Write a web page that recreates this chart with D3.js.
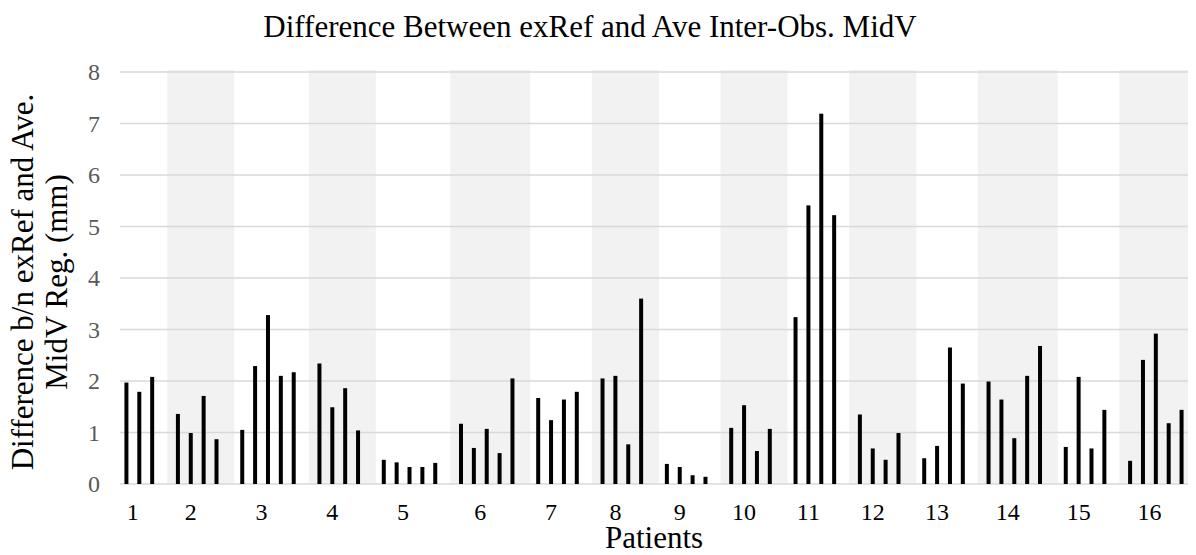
<!DOCTYPE html>
<html>
<head>
<meta charset="utf-8">
<script src="https://cdn.jsdelivr.net/npm/d3@7"></script>
<style>
  html, body { margin: 0; padding: 0; background: #fff; }
  svg { display: block; font-family: "Liberation Serif", "Times New Roman", serif; }
  svg text { font-family: "Liberation Serif", "Times New Roman", serif; }
</style>
</head>
<body>
<svg id="chart" width="1196" height="555"></svg>
<script>
// Patient labels (x axis categories)
const patients = ["1","2","3","4","5","6","7","8","9","10","11","12","13","14","15","16"];

// Difference b/n exRef and average inter-observer MidV registration (mm), per patient
const p1  = [1.97, 1.79, 2.08];
const p2  = [1.36, 0.99, 1.71, 0.87];
const p3  = [1.05, 2.29, 3.28, 2.10, 2.17];
const p4  = [2.34, 1.49, 1.86, 1.04];
const p5  = [0.47, 0.42, 0.33, 0.33, 0.41];
const p6  = [1.17, 0.70, 1.07, 0.60, 2.05];
const p7  = [1.67, 1.24, 1.64, 1.79];
const p8  = [2.05, 2.10, 0.77, 3.60];
const p9  = [0.39, 0.33, 0.17, 0.14];
const p10 = [1.09, 1.53, 0.64, 1.07];
const p11 = [3.24, 5.41, 7.19, 5.22];
const p12 = [1.35, 0.69, 0.47, 0.99];
const p13 = [0.50, 0.74, 2.65, 1.95];
const p14 = [1.99, 1.64, 0.89, 2.10, 2.68];
const p15 = [0.72, 2.08, 0.69, 1.44];
const p16 = [0.45, 2.41, 2.92, 1.18, 1.44];
const seriesByPatient = [p1,p2,p3,p4,p5,p6,p7,p8,p9,p10,p11,p12,p13,p14,p15,p16];

// y axis ticks
const yTicks = [0,1,2,3,4,5,6,7,8];

const titleText = "Difference Between exRef and Ave Inter-Obs. MidV";
const yTitleLines = ["Difference b/n exRef and Ave.", "MidV Reg. (mm)"];
const xTitleText = "Patients";

// ---- layout ----
const plot = { left: 120, right: 1188, top: 72, bottom: 484 };

const svg = d3.select("#chart");

// Flatten into slots: each patient's readings, then one empty slot between patients
const slots = [];
const groups = [];
seriesByPatient.forEach((vals, pi) => {
  const first = slots.length;
  vals.forEach((v, j) => slots.push({ key: `p${pi}-${j}`, patient: pi, value: v }));
  groups.push({ patient: pi, first: slots[first].key, last: slots[slots.length - 1].key });
  if (pi < seriesByPatient.length - 1) slots.push({ key: `gap${pi}`, patient: pi, value: null });
});

const x = d3.scaleBand()
  .domain(slots.map(d => d.key))
  .range([plot.left, plot.right])
  .padding(0);
const step = x.step();

const y = d3.scaleLinear().domain([0, 8]).range([plot.bottom, plot.top]);

// ---- alternating shaded bands behind even-numbered patients ----
svg.append("g")
  .selectAll("rect")
  .data(groups.filter(g => g.patient % 2 === 1))
  .join("rect")
  .attr("x", g => x(g.first) - 0.33 * step)
  .attr("width", g => Math.min(x(g.last) + 1.88 * step, plot.right) - (x(g.first) - 0.33 * step))
  .attr("y", y(8) - 2)
  .attr("height", y(0) - y(8) + 2)
  .attr("fill", "#f2f2f2");

// ---- gridlines ----
svg.append("g")
  .selectAll("line")
  .data(yTicks)
  .join("line")
  .attr("x1", plot.left)
  .attr("x2", plot.right)
  .attr("y1", d => y(d))
  .attr("y2", d => y(d))
  .attr("stroke", "#d9d9d9")
  .attr("stroke-width", 1.5);

// ---- bars ----
const barW = step * 0.31;
svg.append("g")
  .selectAll("rect")
  .data(slots.filter(d => d.value !== null))
  .join("rect")
  .attr("x", d => x(d.key) + step / 2 - barW / 2)
  .attr("width", barW)
  .attr("y", d => y(d.value))
  .attr("height", d => y(0) - y(d.value))
  .attr("fill", "#000");

// ---- y axis labels ----
const yAxis = d3.axisLeft(y).tickValues(yTicks).tickSize(0).tickPadding(0).tickFormat(d3.format("d"));
const yg = svg.append("g")
  .attr("transform", `translate(100,0)`)
  .call(yAxis);
yg.select(".domain").remove();
yg.selectAll("text")
  .style("font-family", "'Liberation Serif', 'Times New Roman', serif")
  .style("font-size", "24px")
  .attr("fill", "#595959");

// ---- x axis category labels ----
svg.append("g")
  .selectAll("text")
  .data(groups)
  .join("text")
  .attr("x", g => (x(g.first) + x(g.last)) / 2)
  .attr("y", 520)
  .attr("text-anchor", "middle")
  .style("font-size", "24px")
  .attr("fill", "#000")
  .text(g => patients[g.patient]);

// ---- titles ----
svg.append("text")
  .attr("x", 590)
  .attr("y", 36.7)
  .attr("text-anchor", "middle")
  .style("font-size", "31px")
  .attr("fill", "#000")
  .text(titleText);

svg.append("text")
  .attr("x", (plot.left + plot.right) / 2)
  .attr("y", 547.5)
  .attr("text-anchor", "middle")
  .style("font-size", "31px")
  .attr("fill", "#000")
  .text(xTitleText);

const yt = svg.append("g").attr("transform", `translate(0,282) rotate(-90)`);
yt.selectAll("text")
  .data(yTitleLines)
  .join("text")
  .attr("x", 0)
  .attr("y", (d, i) => 33 + i * 33.5)
  .attr("text-anchor", "middle")
  .style("font-size", "31px")
  .attr("fill", "#000")
  .text(d => d);
</script>
</body>
</html>
